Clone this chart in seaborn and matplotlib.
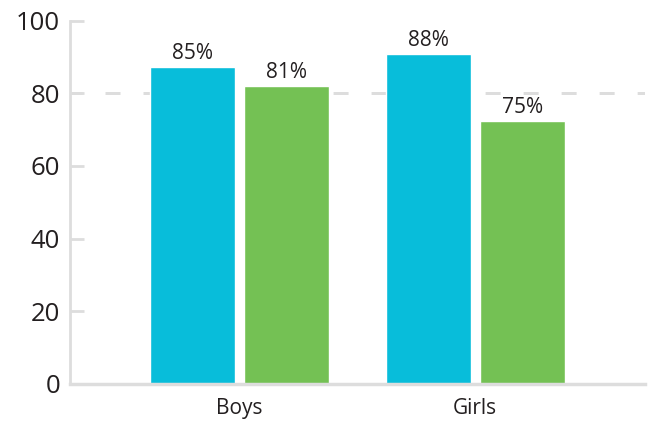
import pandas as pd
import matplotlib.pyplot as plt
import seaborn as sns

groups = ['Boys', 'Girls']
series = ['A', 'B']
heights_a = [87.2, 90.8]
heights_b = [82.0, 72.5]
labels_a = ['85%', '88%']
labels_b = ['81%', '75%']
yticks = [0, 20, 40, 60, 80, 100]
ref_value = 80

df = pd.DataFrame({
    'group': groups * 2,
    'series': [series[0]] * 2 + [series[1]] * 2,
    'value': heights_a + heights_b,
})

sns.set_style('white')
plt.rcParams['font.family'] = ['Open Sans', 'DejaVu Sans']

fig = plt.figure(figsize=(6.52, 4.23), dpi=100)
ax = fig.add_axes([0.1074, 0.0922, 0.8816, 0.859])

# dashed target line at 80
ax.axhline(ref_value, color='#dddddd', lw=2.16, linestyle=(1.0, (5, 7.67)), zorder=0)

sns.barplot(
    data=df, x='group', y='value', hue='series',
    palette=['#08bdda', '#74c154'],
    width=0.8, gap=0.1, saturation=1, legend=False, ax=ax, zorder=2
)

for cont, labs in zip(ax.containers, [labels_a, labels_b]):
    ax.bar_label(cont, labels=labs, padding=2, fontsize=15, color='#231f20')

ax.set_ylim(0, 100)
ax.set_xlim(-0.72, 1.72)
ax.set_yticks(yticks)
ax.set_xlabel('')
ax.set_ylabel('')

ax.tick_params(axis='y', left=True, direction='in', length=10, width=2, color='#dddddd',
               labelsize=18.5, labelcolor='#231f20', pad=7)
ax.tick_params(axis='x', length=0, labelsize=15, labelcolor='#231f20', pad=10)

for s in ['top', 'right']:
    ax.spines[s].set_visible(False)
ax.spines['left'].set_color('#dddddd')
ax.spines['left'].set_linewidth(2)
ax.spines['bottom'].set_color('#dddddd')
ax.spines['bottom'].set_linewidth(2.5)

fig.savefig('out.png', dpi=100)
